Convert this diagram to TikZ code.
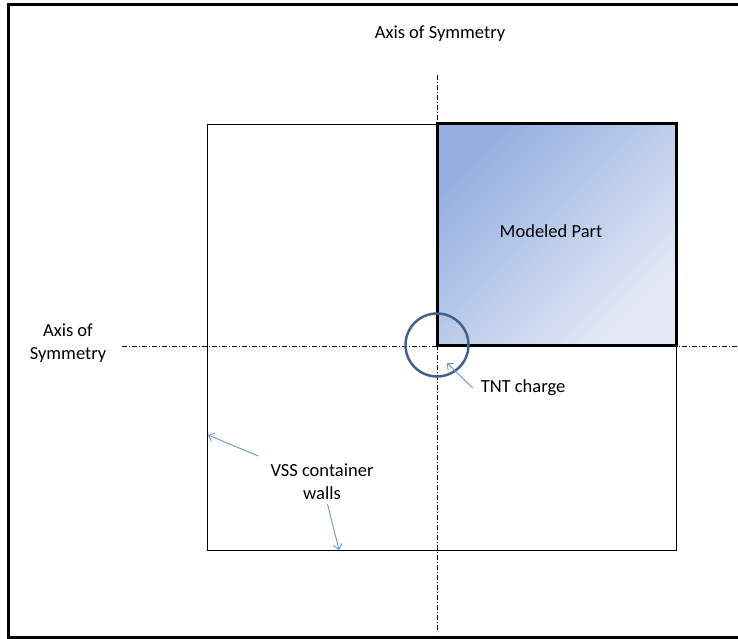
\documentclass[tikz,border=0pt]{standalone}
\usepackage{fontspec}
\setmainfont{Carlito}
\usepackage{tikz}
\usetikzlibrary{calc,arrows.meta}
\definecolor{partdark}{RGB}{148,175,224}
\definecolor{partlight}{RGB}{228,233,245}
\definecolor{chargeblue}{RGB}{65,98,143}
\definecolor{pointerblue}{RGB}{110,148,204}

\begin{document}
\begin{tikzpicture}[x=1pt,y=-1pt,line width=0.8pt,
    label node/.style={font=\fontsize{18.5}{23}\selectfont,align=center,inner sep=2pt,outer sep=2pt},
    sym axis/.style={line width=0.8pt,dash pattern=on 5pt off 2pt on 1pt off 2pt},
    pointer/.style={draw=pointerblue,line width=0.9pt,-{Straight Barb[length=5pt,width=9pt]}}]

    \useasboundingbox (0,0) rectangle (738,639);
    \draw[line width=3pt] (745,5) -- (8,5) -- (8,637) -- (745,637);

    \coordinate (c) at (437,345);
    \draw (207,124) rectangle (676,550);
    \shade[top color=partdark,bottom color=partlight,shading angle=45] (437,124) rectangle (676,345);
    \draw[line width=3pt] (437,124) rectangle (676,345);
    \draw[sym axis] (437,75) -- (437,632);
    \draw[sym axis] (122,346) -- (738,346);
    \node[circle,draw=chargeblue,line width=2.5pt,minimum size=63pt,inner sep=0pt] (tnt) at (c) {};

    \node[label node] (topaxis) at (440,34) {Axis of Symmetry};
    \node[label node] (leftaxis) at (68,343) {Axis of\\Symmetry};
    \node[label node] (part) at (551,231) {Modeled Part};
    \node[label node] (tntlabel) at (523,388) {TNT charge};
    \node[label node] (vss) at (322,482) {VSS container\\walls};

    \coordinate (tntpt) at (447,363);
    \coordinate (wallleft) at (208,435);
    \coordinate (wallbottom) at (339,550);

    \draw[pointer] ($(tntlabel.west)+(-4,0)$) -- (tntpt);
    \draw[pointer] (vss.north west) ++(-8,-4) -- (wallleft);
    \draw[pointer] (vss) -- (wallbottom);
\end{tikzpicture}
\end{document}
